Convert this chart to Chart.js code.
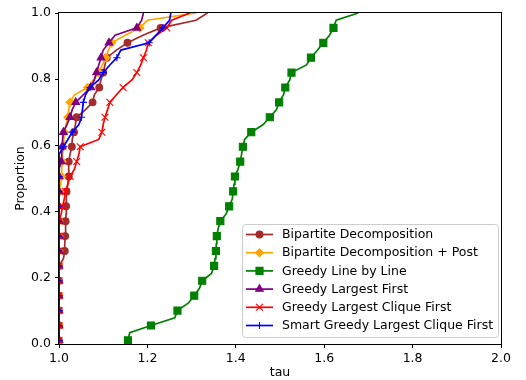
<!DOCTYPE html>
<html>
<head>
<meta charset="utf-8">
<script src="https://cdn.jsdelivr.net/npm/chart.js@4.4.0/dist/chart.umd.min.js"></script>
<style>
  html, body { margin: 0; padding: 0; background: #fff; }
</style>
</head>
<body>
<canvas id="chart-1" width="526" height="380"></canvas>
<script>
// proportion of instances (shared y values for every curve)
const proportion = [0.011, 0.034, 0.056, 0.079, 0.101, 0.124, 0.146, 0.169, 0.191, 0.213,
                    0.236, 0.258, 0.281, 0.303, 0.326, 0.348, 0.371, 0.393, 0.416, 0.438,
                    0.461, 0.483, 0.506, 0.528, 0.551, 0.573, 0.596, 0.618, 0.640, 0.663,
                    0.685, 0.708, 0.730, 0.753, 0.775, 0.798, 0.820, 0.843, 0.865, 0.888,
                    0.910, 0.933, 0.955, 0.978, 1.000];

// tau values, one per proportion step
const tau_bipartite = [1.0, 1.0, 1.0, 1.0, 1.0, 1.0, 1.0, 1.0, 1.0, 1.0,
                       1.0, 1.01, 1.013, 1.013, 1.014, 1.015, 1.015, 1.016, 1.016, 1.017,
                       1.017, 1.02, 1.022, 1.022, 1.022, 1.025, 1.029, 1.03, 1.034, 1.037,
                       1.04, 1.06, 1.076, 1.08, 1.091, 1.095, 1.10, 1.104, 1.108, 1.13,
                       1.155, 1.19, 1.23, 1.31, 1.336];
const tau_bipartite_post = [1.0, 1.0, 1.0, 1.0, 1.0, 1.0, 1.0, 1.0, 1.0, 1.0,
                            1.0, 1.0, 1.0, 1.0, 1.0, 1.0, 1.0, 1.0, 1.0, 1.0,
                            1.002, 1.004, 1.006, 1.006, 1.007, 1.008, 1.01, 1.011, 1.012, 1.016,
                            1.02, 1.022, 1.025, 1.035, 1.065, 1.078, 1.09, 1.098, 1.106, 1.112,
                            1.119, 1.15, 1.183, 1.20, 1.311];
const tau_line_by_line = [1.156, 1.16, 1.208, 1.262, 1.268, 1.293, 1.306, 1.318, 1.324, 1.345,
                          1.351, 1.353, 1.355, 1.356, 1.357, 1.36, 1.365, 1.378, 1.385, 1.392,
                          1.394, 1.396, 1.398, 1.405, 1.41, 1.413, 1.416, 1.42, 1.435, 1.462,
                          1.477, 1.492, 1.498, 1.508, 1.512, 1.522, 1.526, 1.56, 1.57, 1.585,
                          1.598, 1.612, 1.621, 1.627, 1.677];
const tau_largest_first = [1.0, 1.0, 1.0, 1.0, 1.0, 1.0, 1.0, 1.0, 1.0, 1.0,
                           1.0, 1.0, 1.0, 1.0, 1.0, 1.0, 1.0, 1.0, 1.0, 1.0,
                           1.0, 1.0, 1.0, 1.002, 1.005, 1.006, 1.007, 1.008, 1.01, 1.018,
                           1.025, 1.03, 1.038, 1.055, 1.072, 1.08, 1.085, 1.09, 1.095, 1.10,
                           1.113, 1.127, 1.176, 1.187, 1.191];
const tau_largest_clique = [1.0, 1.0, 1.0, 1.0, 1.0, 1.0, 1.0, 1.0, 1.0, 1.0,
                            1.0, 1.0, 1.0, 1.0, 1.0, 1.0, 1.0, 1.005, 1.008, 1.012,
                            1.015, 1.02, 1.025, 1.035, 1.04, 1.045, 1.048, 1.09, 1.097, 1.10,
                            1.104, 1.11, 1.115, 1.13, 1.145, 1.165, 1.176, 1.185, 1.191, 1.198,
                            1.202, 1.22, 1.244, 1.255, 1.296];
const tau_smart_clique = [1.0, 1.0, 1.0, 1.0, 1.0, 1.0, 1.0, 1.0, 1.0, 1.0,
                          1.0, 1.0, 1.0, 1.0, 1.0, 1.0, 1.0, 1.0, 1.0, 1.0,
                          1.0, 1.0, 1.0, 1.0, 1.0, 1.002, 1.01, 1.02, 1.03, 1.045,
                          1.051, 1.053, 1.055, 1.06, 1.07, 1.09, 1.10, 1.115, 1.131, 1.14,
                          1.204, 1.22, 1.235, 1.25, 1.253];

const labels = ["Bipartite Decomposition", "Bipartite Decomposition + Post", "Greedy Line by Line",
                "Greedy Largest First", "Greedy Largest Clique First", "Smart Greedy Largest Clique First"];
const colors = ["#a52a2a", "#ffa500", "#008000", "#800080", "#ff0000", "#0000ff"];
const series = [tau_bipartite, tau_bipartite_post, tau_line_by_line,
                tau_largest_first, tau_largest_clique, tau_smart_clique];
const markers = ["circle", "rectRot", "rect", "triangle", "crossRot", "cross"];
const markerSize = [3.4, 4.0, 5.0, 4.4, 4.8, 3.6];

const FONT = '"DejaVu Sans", sans-serif';
const FONT_SIZE = 12.5;

// matplotlib style box around the plot area
const frame = {
    id: 'frame',
    afterDatasetsDraw(chart) {
        const { ctx, chartArea: a } = chart;
        ctx.save();
        ctx.strokeStyle = '#000';
        ctx.lineWidth = 1;
        ctx.strokeRect(Math.round(a.left) - 0.5, Math.round(a.top) - 0.5,
                       Math.round(a.right - a.left) + 1, Math.round(a.bottom - a.top) + 1);
        ctx.restore();
    }
};

// legend in the lower right corner of the axes
const legendBox = {
    id: 'legendBox',
    afterDraw(chart) {
        const { ctx, chartArea: a } = chart;
        const w = 256, h = 113;
        const x0 = Math.round(a.right - 3 - w), y0 = Math.round(a.bottom - 7 - h);
        ctx.save();
        ctx.beginPath();
        ctx.roundRect(x0 + 0.5, y0 + 0.5, w, h, 3);
        ctx.fillStyle = 'rgba(255,255,255,0.8)';
        ctx.fill();
        ctx.strokeStyle = '#cccccc';
        ctx.lineWidth = 1;
        ctx.stroke();
        chart.data.datasets.forEach((ds, i) => {
            const y = y0 + 10.5 + i * 18.2;
            ctx.strokeStyle = ds.borderColor;
            ctx.fillStyle = ds.borderColor;
            ctx.lineWidth = 1.7;
            ctx.beginPath();
            ctx.moveTo(x0 + 4, y);
            ctx.lineTo(x0 + 31, y);
            ctx.stroke();
            ctx.lineWidth = 1.1;
            Chart.helpers.drawPoint(ctx, {
                pointStyle: markers[i], radius: markerSize[i], rotation: 0, borderWidth: 1.1
            }, x0 + 17.5, y);
            ctx.fillStyle = '#000';
            ctx.font = FONT_SIZE + 'px ' + FONT;
            ctx.textBaseline = 'middle';
            ctx.textAlign = 'left';
            ctx.fillText(ds.label, x0 + 40, y + 0.5);
        });
        ctx.restore();
    }
};

const datasets = series.map((tau, k) => ({
    label: labels[k],
    data: tau.map((t, i) => ({ x: t, y: proportion[i] })),
    borderColor: colors[k],
    backgroundColor: colors[k],
    pointBackgroundColor: colors[k],
    pointBorderColor: colors[k],
    borderWidth: 1.7,
    pointStyle: markers[k],
    pointBorderWidth: 1.1,
    pointRadius: (ctx) => (ctx.index % 2 === 0 && ctx.index < 44) ? markerSize[k] : 0,
    tension: 0,
    clip: 0,
    order: series.length - k,
}));

const ctx = document.getElementById("chart-1").getContext("2d");
const myChart = new Chart(ctx, {
    type: "line",
    data: { datasets: datasets },
    options: {
        responsive: false,
        animation: false,
        events: [],
        layout: { padding: { left: 0, right: 25, top: 13, bottom: 0 } },
        plugins: {
            legend: { display: false },
            tooltip: { enabled: false },
        },
        scales: {
            x: {
                type: 'linear',
                min: 1.0,
                max: 2.0,
                afterFit: (scale) => { scale.height = 36; },
                border: { display: false },
                grid: { display: true, drawOnChartArea: false, drawTicks: true, tickLength: 4, color: '#000' },
                ticks: {
                    stepSize: 0.2,
                    maxRotation: 0,
                    padding: 3,
                    color: '#000',
                    font: { family: FONT, size: FONT_SIZE },
                    callback: (v) => Number(v).toFixed(1),
                },
                title: {
                    display: true,
                    text: 'tau',
                    color: '#000',
                    font: { family: FONT, size: FONT_SIZE },
                    padding: { top: 0, bottom: 0 },
                },
            },
            y: {
                type: 'linear',
                min: 0,
                max: 1,
                afterFit: (scale) => { scale.width = 59; },
                border: { display: false },
                grid: { display: true, drawOnChartArea: false, drawTicks: true, tickLength: 4, color: '#000' },
                ticks: {
                    stepSize: 0.2,
                    padding: 4,
                    color: '#000',
                    font: { family: FONT, size: FONT_SIZE },
                    callback: (v) => Number(v).toFixed(1),
                },
                title: {
                    display: true,
                    text: 'Proportion',
                    color: '#000',
                    font: { family: FONT, size: FONT_SIZE },
                    padding: { top: 13, bottom: 0 },
                },
            },
        },
    },
    plugins: [frame, legendBox],
});
</script>
</body>
</html>
